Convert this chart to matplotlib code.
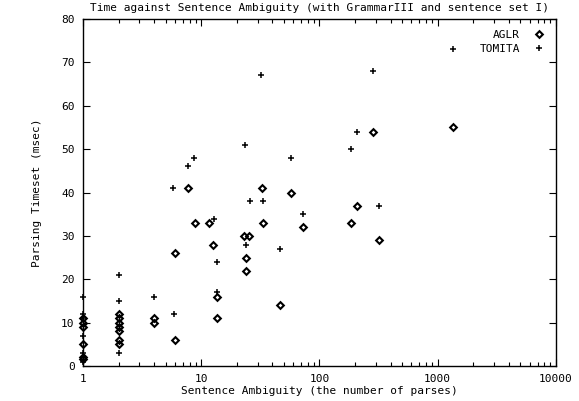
import numpy as np
import matplotlib
matplotlib.use('Agg')
import matplotlib.pyplot as plt
from matplotlib.ticker import LogLocator, NullFormatter

# AGLR: (ambiguity, time in msec)
aglr_x = [1, 1, 1, 1, 1, 1,
          2, 2, 2, 2, 2, 2, 2,
          4, 4, 6, 6, 7.8, 8.8, 11.7, 12.5, 13.6, 13.6,
          23, 24, 24, 25.5, 32.7, 33.5, 46, 57, 72,
          186, 209, 285, 321, 1340]
aglr_y = [11, 10, 9, 5, 2, 1.5,
          12, 11, 10, 9, 8, 6, 5,
          11, 10, 26, 6, 41, 33, 33, 28, 16, 11,
          30, 25, 22, 30, 41, 33, 14, 40, 32,
          33, 37, 54, 29, 55]

# TOMITA
tomita_x = [1, 1, 1, 1, 1, 1,
            2, 2, 2,
            4, 5.8, 5.9, 7.8, 8.7, 12.7, 13.6, 13.6,
            23.5, 24, 26, 32.2, 33.5, 46, 57, 72,
            186, 209, 285, 321, 1340]
tomita_y = [16, 12, 11, 7, 3, 1,
            21, 15, 3,
            16, 41, 12, 46, 48, 34, 24, 17,
            51, 28, 38, 67, 38, 27, 48, 35,
            50, 54, 68, 37, 73]

font = 'DejaVu Sans Mono'
fs = 8

fig = plt.figure(figsize=(5.79, 4.01), dpi=100)
ax = fig.add_axes([0.1434, 0.0873, 0.8166, 0.8653])

ax.plot(aglr_x, aglr_y, ls='none', marker='D', markersize=3.4,
        markerfacecolor='none', markeredgecolor='black', markeredgewidth=1.5,
        label='AGLR', clip_on=False, zorder=3)
ax.plot(tomita_x, tomita_y, ls='none', marker='+', markersize=5,
        markeredgewidth=1.1, color='black', label='TOMITA',
        clip_on=False, zorder=3)

ax.set_xscale('log')
ax.set_xlim(1, 10000)
ax.set_ylim(0, 80)
ax.set_xticks([1, 10, 100, 1000, 10000])
ax.set_xticklabels(['1', '10', '100', '1000', '10000'],
                   fontsize=fs, fontname=font)
ax.xaxis.set_minor_locator(LogLocator(base=10, subs=np.arange(2, 10)))
ax.xaxis.set_minor_formatter(NullFormatter())
ax.set_yticks(range(0, 81, 10))
ax.set_yticklabels([str(v) for v in range(0, 81, 10)],
                   fontsize=fs, fontname=font)

ax.tick_params(which='both', direction='in', top=True, right=True,
               color='black', width=0.8)
ax.tick_params(which='major', length=5, pad=6)
ax.tick_params(which='minor', length=3)
for s in ax.spines.values():
    s.set_linewidth(1.0)
    s.set_color('black')

ax.set_title('Time against Sentence Ambiguity (with GrammarIII and sentence set I)',
             fontsize=fs, fontname=font, pad=6)
ax.set_xlabel('Sentence Ambiguity (the number of parses)',
              fontsize=fs, fontname=font, labelpad=1)
ax.set_ylabel('Parsing Timeset (msec)', fontsize=fs, fontname=font,
              labelpad=14)

leg = ax.legend(loc='upper right', frameon=False, markerfirst=False,
                prop={'family': font, 'size': fs}, handlelength=1.0,
                handletextpad=1.2, labelspacing=0.35,
                borderaxespad=0.6)
for t in leg.get_texts():
    t.set_ha('right')

fig.savefig('out.png', dpi=100)
